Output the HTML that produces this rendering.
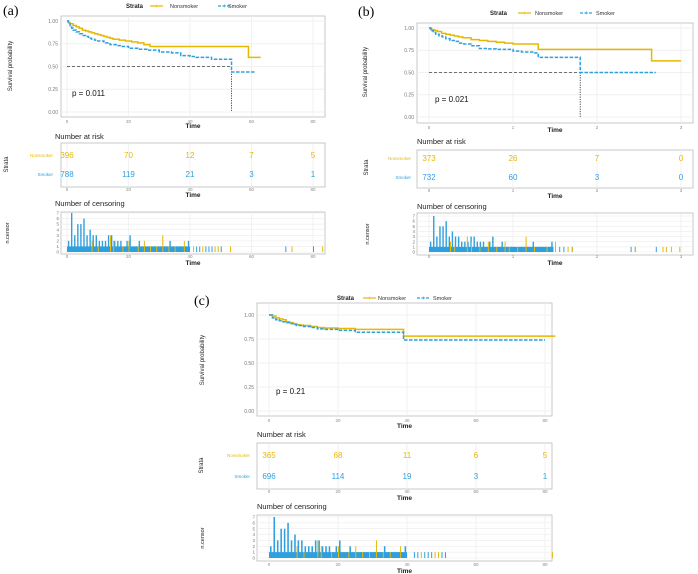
<!DOCTYPE html>
<html><head><meta charset="utf-8"><style>
body{margin:0;background:#fff}
svg{display:block;font-family:"Liberation Sans",sans-serif}
</style></head><body>
<svg id="fig" width="698" height="574" viewBox="0 0 698 574"></svg>
<script>
const NS="http://www.w3.org/2000/svg";
const YEL="#E7B800", BLU="#2E9FDF";
// ---- data ----
const aNonT=[0,0.5,1,2,3,4,5,6,7,8,9,10,11,12,13,14,15,17,19,21,23,25,27,59], aNonS=[1,0.98,0.97,0.95,0.935,0.92,0.9,0.89,0.88,0.87,0.86,0.85,0.84,0.83,0.82,0.81,0.8,0.79,0.78,0.77,0.76,0.74,0.72,0.6], aNonEnd=63;
const aSmkT=[0,0.5,1,1.5,2,3,4,5,6,7,8,9,10,12,14,16,18,20,23,26,30,34,37,40,42,47,53.5], aSmkS=[1,0.97,0.94,0.92,0.9,0.88,0.86,0.84,0.83,0.81,0.8,0.79,0.78,0.76,0.74,0.73,0.72,0.7,0.69,0.68,0.66,0.65,0.62,0.61,0.6,0.58,0.44], aSmkEnd=61;
const bNonT=[0,0.03,0.07,0.1,0.15,0.2,0.25,0.3,0.35,0.4,0.5,0.6,0.7,0.8,0.9,1,1.3,2.65], bNonS=[1,0.98,0.97,0.96,0.94,0.93,0.92,0.91,0.9,0.89,0.87,0.86,0.85,0.84,0.83,0.82,0.76,0.63], bNonEnd=3;
const bSmkT=[0,0.02,0.05,0.08,0.12,0.16,0.2,0.25,0.3,0.35,0.4,0.5,0.6,0.7,0.8,1,1.1,1.25,1.3,1.8], bSmkS=[1,0.97,0.95,0.93,0.91,0.9,0.88,0.86,0.85,0.83,0.82,0.8,0.77,0.765,0.76,0.74,0.73,0.72,0.67,0.5], bSmkEnd=2.7;
const cNonT=[0,1,2,3,4,5,6,7,8,9,10,12,14,16,20,25,39], cNonS=[1,0.99,0.97,0.96,0.95,0.93,0.92,0.91,0.9,0.895,0.89,0.88,0.87,0.865,0.86,0.85,0.78], cNonEnd=83;
const cSmkT=[0,1,2,3,4,5,6,7,8,10,12,14,16,20,25,39], cSmkS=[1,0.97,0.95,0.94,0.93,0.92,0.91,0.9,0.89,0.88,0.87,0.855,0.85,0.84,0.82,0.74], cSmkEnd=80;
const riskA_non=[396,70,12,7,5], riskA_smk=[788,119,21,3,1];
const riskB_non=[373,26,7,0], riskB_smk=[732,60,3,0];
const riskC_non=[365,68,11,6,5], riskC_smk=[696,114,19,3,1];
const censSmkDense=[2,7,3,5,5,6,3,4,3,3,2,2,2,3,3,2,2,2,1,2,3,1,1,2,1,1,1,1,1,1,1,1,1,2,1,1,1,1,1,2];
const censSmkSparseA=[42,43,45,46,47,50,71,80], censNonA=[8,10,14,15,18,20,23,25,27,29,31,33,35,38,41,44,48,49,53,73,83], censNonAH=[2,1,3,2,1,2,1,2,1,1,3,1,1,2,1,1,1,1,1,1,1];
const censSmkSparseB=[1.35,1.45,1.55,1.6,1.7,2.4,2.45,2.7], censNonB=[0.25,0.3,0.45,0.5,0.6,0.7,0.8,0.9,0.95,1.05,1.15,1.25,1.4,1.5,1.65,1.7,2.45,2.78,2.82,2.88,2.98], censNonBH=[2,1,3,2,1,2,1,2,1,1,3,1,1,2,1,1,1,1,1,1,1];
const censSmkSparseC=[42,43,45,46,47,50,51], censNonC=[8,10,14,15,18,20,23,25,27,29,31,33,35,38,44,48,49,82], censNonCH=[2,1,3,2,1,2,1,2,1,1,3,1,1,2,1,1,1,1];
const median=[53.5,1.8,null];
const pvals=["p = 0.011","p = 0.021","p = 0.21"];
const ticksAC=[0,20,40,60,80], ticksB=[0,1,2,3];
const yTicks=[0,0.25,0.5,0.75,1], yTickLbl=["0.00","0.25","0.50","0.75","1.00"];
const cTicks=[0,1,2,3,4,5,6,7];

const svg=document.getElementById('fig');
function el(tag,attrs,parent,text){const e=document.createElementNS(NS,tag);for(const k in attrs)e.setAttribute(k,attrs[k]);if(text!==undefined)e.textContent=text;(parent||svg).appendChild(e);return e;}

const P=[
{lab:"(a)",lx:3,ly:15,box:[61,16,325,117],x0:67,xT:313,tMax:80,ticks:ticksAC,y1:21,y0:112,timeY:128,
 leg:{y:6,strata:126,nl:150,nt:170,sl:218,st:228},ylx:12,yly:66,px:72,py:96,
 nonT:aNonT,nonS:aNonS,nonE:aNonEnd,smkT:aSmkT,smkS:aSmkS,smkE:aSmkEnd,med:median[0],
 risk:{tx:55,ty:139,box:[61,143,325,187],r1:155,r2:174,tick:191,time:197,lblX:53,strataX:8},rn:riskA_non,rs:riskA_smk,
 cens:{ty:206,box:[61,212,325,254],c0:252,c7:213,tick:258,time:265,ylx:9},dense:1,sp:censSmkSparseA,nc:censNonA,nh:censNonAH,p:pvals[0]},
{lab:"(b)",lx:358,ly:16,box:[417,23,693,123],x0:429,xT:681,tMax:3,ticks:ticksB,y1:28,y0:117,timeY:132,
 leg:{y:13,strata:490,nl:518,nt:535,sl:580,st:596},ylx:367,yly:72,px:435,py:102,
 nonT:bNonT,nonS:bNonS,nonE:bNonEnd,smkT:bSmkT,smkS:bSmkS,smkE:bSmkEnd,med:median[1],
 risk:{tx:417,ty:144,box:[417,150,693,188],r1:158,r2:177,tick:192,time:198,lblX:411,strataX:368},rn:riskB_non,rs:riskB_smk,
 cens:{ty:209,box:[417,213,693,255],c0:252,c7:216,tick:258,time:265,ylx:369},dense:1/27,sp:censSmkSparseB,nc:censNonB,nh:censNonBH,p:pvals[1]},
{lab:"(c)",lx:194,ly:305,box:[257,303,552,416],x0:269,xT:545,tMax:80,ticks:ticksAC,y1:315,y0:411,timeY:428,
 leg:{y:298,strata:337,nl:363,nt:378,sl:417,st:433},ylx:204,yly:360,px:276,py:394,
 nonT:cNonT,nonS:cNonS,nonE:cNonEnd,smkT:cSmkT,smkS:cSmkS,smkE:cSmkEnd,med:median[2],
 risk:{tx:257,ty:437,box:[257,443,552,489],r1:455,r2:476,tick:493,time:500,lblX:250,strataX:203},rn:riskC_non,rs:riskC_smk,
 cens:{ty:509,box:[257,515,552,561],c0:558,c7:517,tick:566,time:573,ylx:204},dense:1,sp:censSmkSparseC,nc:censNonC,nh:censNonCH,p:pvals[2]}
];

function axisBox(b,g,name){
 const r=el('rect',{x:b[0],y:b[1],width:b[2]-b[0],height:b[3]-b[1],fill:'#fff',stroke:'#bbb','stroke-width':0.8},g);
 
}
function xTicksDraw(p,g,b,ty,timeY,X){
 p.ticks.forEach(t=>{
  el('line',{x1:X(t),x2:X(t),y1:b[1],y2:b[3],stroke:'#ececec','stroke-width':0.7},g);
  el('text',{x:X(t),y:ty,'font-size':4.5,fill:'#888','text-anchor':'middle'},g,String(t));
 });
 const tl=el('text',{x:(b[0]+b[2])/2,y:timeY,'font-size':6.5,fill:'#222','text-anchor':'middle','font-weight':'bold'},g,'Time');
 
}
function stepPath(T,S,end,X,Y){
 let d=`M${X(T[0])},${Y(S[0])}`;
 for(let i=1;i<T.length;i++){d+=` H${X(T[i])} V${Y(S[i])}`;}
 d+=` H${X(end)}`;return d;
}
P.forEach((p,i)=>{
 const g=el('g',{});
 const X=t=>p.x0+t*(p.xT-p.x0)/p.tMax;
 const Y=s=>p.y0-s*(p.y0-p.y1);
 el('text',{x:p.lx,y:p.ly,'font-size':14,'font-family':'Liberation Serif,serif',fill:'#000'},g,p.lab);
 const L=p.leg;
 const lg=el('g',{},g);
 el('text',{x:L.strata,y:L.y+2,'font-size':6,fill:'#222','font-weight':'bold'},lg,'Strata');
 el('line',{x1:L.nl,x2:L.nl+13,y1:L.y,y2:L.y,stroke:YEL,'stroke-width':1.2},lg);
 el('text',{x:L.nl+6.5,y:L.y+2,'font-size':6,fill:YEL,'text-anchor':'middle'},lg,'+');
 el('text',{x:L.nt,y:L.y+2,'font-size':5.5,fill:'#333'},lg,'Nonsmoker');
 el('line',{x1:L.sl,x2:L.sl+13,y1:L.y,y2:L.y,stroke:BLU,'stroke-width':1.2,'stroke-dasharray':'3,1.5'},lg);
 el('text',{x:L.sl+6.5,y:L.y+2,'font-size':6,fill:BLU,'text-anchor':'middle'},lg,'+');
 el('text',{x:L.st,y:L.y+2,'font-size':5.5,fill:'#333'},lg,'Smoker');
 const b=p.box;axisBox(b,g,'survival-plot-area');
 yTicks.forEach((v,k)=>{
  el('line',{x1:b[0],x2:b[2],y1:Y(v),y2:Y(v),stroke:'#ececec','stroke-width':0.7},g);
  el('text',{x:b[0]-3,y:Y(v)+1.8,'font-size':5,fill:'#777','text-anchor':'end'},g,yTickLbl[k]);
 });
 xTicksDraw(p,g,b,b[3]+6,p.timeY,X);
 const yl=el('text',{x:p.ylx,y:p.yly,'font-size':6,fill:'#222','text-anchor':'middle',transform:`rotate(-90 ${p.ylx} ${p.yly})`},g,'Survival probability');
 
 if(p.med!==null){
  el('line',{x1:X(0),x2:X(p.med),y1:Y(0.5),y2:Y(0.5),stroke:'#444','stroke-width':0.8,'stroke-dasharray':'3,2'},g);
  el('line',{x1:X(p.med),x2:X(p.med),y1:Y(0.5),y2:Y(0),stroke:'#222','stroke-width':0.8,'stroke-dasharray':'1.2,1.2'},g);
 }
 const cn=el('path',{d:stepPath(p.nonT,p.nonS,p.nonE,X,Y),fill:'none',stroke:YEL,'stroke-width':1.5},g);
 
 const cs=el('path',{d:stepPath(p.smkT,p.smkS,p.smkE,X,Y),fill:'none',stroke:BLU,'stroke-width':1.5,'stroke-dasharray':'3.5,1.5'},g);
 
 const pt=el('text',{x:p.px,y:p.py,'font-size':8,fill:'#111'},g,p.p);
 
 const R=p.risk,rb=R.box;
 el('text',{x:R.tx,y:R.ty,'font-size':7.5,fill:'#222'},g,'Number at risk');
 axisBox(rb,g,'risk-table');
 xTicksDraw(p,g,rb,R.tick,R.time,X);
 el('text',{x:R.lblX,y:R.r1+2,'font-size':4.5,fill:YEL,'text-anchor':'end'},g,'Nonsmoker');
 el('text',{x:R.lblX,y:R.r2+2,'font-size':4.5,fill:BLU,'text-anchor':'end'},g,'Smoker');
 const sm=(R.r1+R.r2)/2;
 el('text',{x:R.strataX,y:sm,'font-size':6,fill:'#222','text-anchor':'middle',transform:`rotate(-90 ${R.strataX} ${sm})`},g,'Strata');
 p.ticks.forEach((t,k)=>{
  const a=el('text',{x:X(t),y:R.r1+3,'font-size':8,fill:YEL,'text-anchor':'middle'},g,String(p.rn[k]));
  
  const c=el('text',{x:X(t),y:R.r2+3,'font-size':8,fill:BLU,'text-anchor':'middle'},g,String(p.rs[k]));
  
 });
 const C=p.cens,cb=C.box;
 const CY=v=>C.c0-v*(C.c0-C.c7)/7;
 el('text',{x:R.tx,y:C.ty,'font-size':7.5,fill:'#222'},g,'Number of censoring');
 axisBox(cb,g,'censoring-plot');
 cTicks.forEach(v=>{
  el('line',{x1:cb[0],x2:cb[2],y1:CY(v),y2:CY(v),stroke:'#ececec','stroke-width':0.6},g);
  el('text',{x:cb[0]-2,y:CY(v)+1.6,'font-size':4.5,fill:'#777','text-anchor':'end'},g,String(v));
 });
 xTicksDraw(p,g,cb,C.tick,C.time,X);
 const cm=(cb[1]+cb[3])/2;
 el('text',{x:C.ylx,y:cm,'font-size':5.5,fill:'#222','text-anchor':'middle',transform:`rotate(-90 ${C.ylx} ${cm})`},g,'n.censor');
 const w=X(p.dense)-X(0);
 // base fill at height 1 under dense region
 el('rect',{x:X(0),y:CY(1),width:w*censSmkDense.length,height:CY(0)-CY(1),fill:BLU},g);
 censSmkDense.forEach((h,k)=>{
  const r=el('rect',{x:X(k*p.dense)+w*0.3,y:CY(h),width:Math.max(1,w*0.45),height:CY(0)-CY(h),fill:BLU},g);
  
 });
 p.sp.forEach(t=>{
  const r=el('rect',{x:X(t),y:CY(1),width:1,height:CY(0)-CY(1),fill:BLU},g);
  
 });
 p.nc.forEach((t,k)=>{
  const r=el('rect',{x:X(t),y:CY(p.nh[k]),width:1,height:CY(0)-CY(p.nh[k]),fill:YEL},g);
  
 });
});
</script>
</body></html>
